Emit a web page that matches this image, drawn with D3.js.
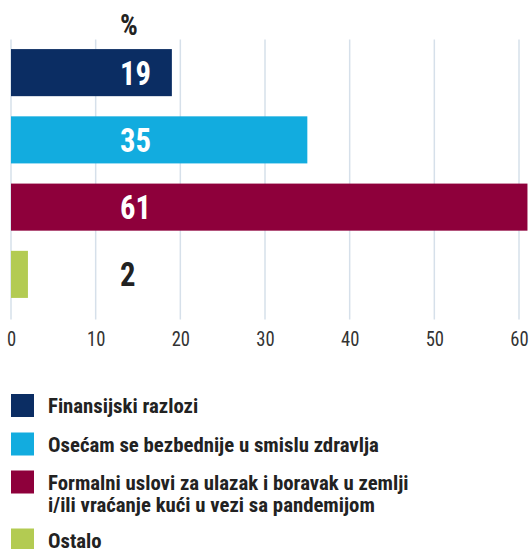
<!DOCTYPE html>
<html>
<head>
<meta charset="utf-8">
<script src="https://cdn.jsdelivr.net/npm/d3@7"></script>
<style>
  body { margin: 0; background: #fff; }
  svg text { font-family: "Roboto Condensed", "Roboto", sans-serif; }
</style>
</head>
<body>
<div id="chart"></div>
<script>
// data
var categories = [
  "Finansijski razlozi",
  "Osećam se bezbednije u smislu zdravlja",
  "Formalni uslovi za ulazak i boravak u zemlji i/ili vraćanje kući u vezi sa pandemijom",
  "Ostalo"
];
var values = [19, 35, 61, 2];
var colors = ["#0b2d63", "#12acdf", "#8e003b", "#b3cb52"];
var legendLines = [
  ["Finansijski razlozi"],
  ["Osećam se bezbednije u smislu zdravlja"],
  ["Formalni uslovi za ulazak i boravak u zemlji", "i/ili vraćanje kući u vezi sa pandemijom"],
  ["Ostalo"]
];
var tickValues = [0, 10, 20, 30, 40, 50, 60];

var width = 531,
    height = 549;
var squeeze = 0.93; // fake a condensed face

var svg = d3.select("#chart").append("svg")
    .attr("width", width)
    .attr("height", height);

var x = d3.scaleLinear().domain([0, 60]).range([11, 519]);
var y = d3.scaleBand().domain(categories).range([39, 308])
    .paddingInner(0.3).paddingOuter(0.15);

var gridTop = 39.5, gridBottom = 319.5;

// grid lines
svg.append("g").selectAll("line")
    .data(tickValues)
  .enter().append("line")
    .attr("x1", function(d) { return x(d); })
    .attr("x2", function(d) { return x(d); })
    .attr("y1", gridTop)
    .attr("y2", gridBottom)
    .style("stroke", "#d6e0ea")
    .style("stroke-width", 1.5);

// x axis labels
var axis = svg.append("g")
    .attr("transform", "translate(0," + 332 + ")")
    .call(d3.axisBottom(x).tickValues(tickValues).tickSize(0).tickPadding(0));
axis.select(".domain").remove();
axis.selectAll("text")
    .attr("dy", "0.71em")
    .style("font-family", "'Roboto Condensed', Roboto, sans-serif")
    .style("font-size", "20px")
    .style("fill", "#333")
    .attr("transform", "scale(" + squeeze + ",1)");

// bars
svg.append("g").selectAll("rect")
    .data(values)
  .enter().append("rect")
    .attr("x", x(0))
    .attr("y", function(d, i) { return y(categories[i]); })
    .attr("width", function(d) { return x(d) - x(0); })
    .attr("height", y.bandwidth())
    .style("fill", function(d, i) { return colors[i]; });

var labelX = 120;

// value labels
svg.append("g").selectAll("text")
    .data(values)
  .enter().append("text")
    .attr("transform", function(d, i) {
      return "translate(" + labelX + "," + (y(categories[i]) + y.bandwidth() / 2) + ") scale(" + squeeze + ",1)";
    })
    .attr("dy", "0.36em")
    .style("font-size", "33px")
    .style("font-weight", "bold")
    .style("fill", function(d) { return x(d) > labelX + 40 ? "#fff" : "#222"; })
    .text(function(d) { return d; });

// unit
svg.append("text")
    .attr("transform", "translate(" + labelX + ",35) scale(" + squeeze + ",1)")
    .style("font-size", "30px")
    .style("font-weight", "bold")
    .style("fill", "#222")
    .text("%");

// legend
var legendTop = [394, 432.5, 470.5, 528.5];
var legend = svg.append("g").selectAll("g")
    .data(legendLines)
  .enter().append("g")
    .attr("transform", function(d, i) { return "translate(11," + legendTop[i] + ")"; });

legend.append("rect")
    .attr("width", 23)
    .attr("height", 23)
    .style("fill", function(d, i) { return colors[i]; });

var legendText = legend.append("text")
    .style("font-size", "21px")
    .style("font-weight", "bold")
    .style("fill", "#222");

legendText.each(function(lines) {
  var t = d3.select(this);
  lines.forEach(function(line, j) {
    t.append("tspan")
      .attr("x", 0)
      .attr("y", 19 + j * 22.7)
      .text(line);
  });
});

// width of the second legend line in the picture is about 331px
var probe = legendText.filter(function(d, i) { return i === 1; }).node();
var legendSqueeze = Math.min(1, 331 / probe.getComputedTextLength());
legendText.attr("transform", "translate(37,0) scale(" + legendSqueeze + ",1)");
</script>
</body>
</html>
